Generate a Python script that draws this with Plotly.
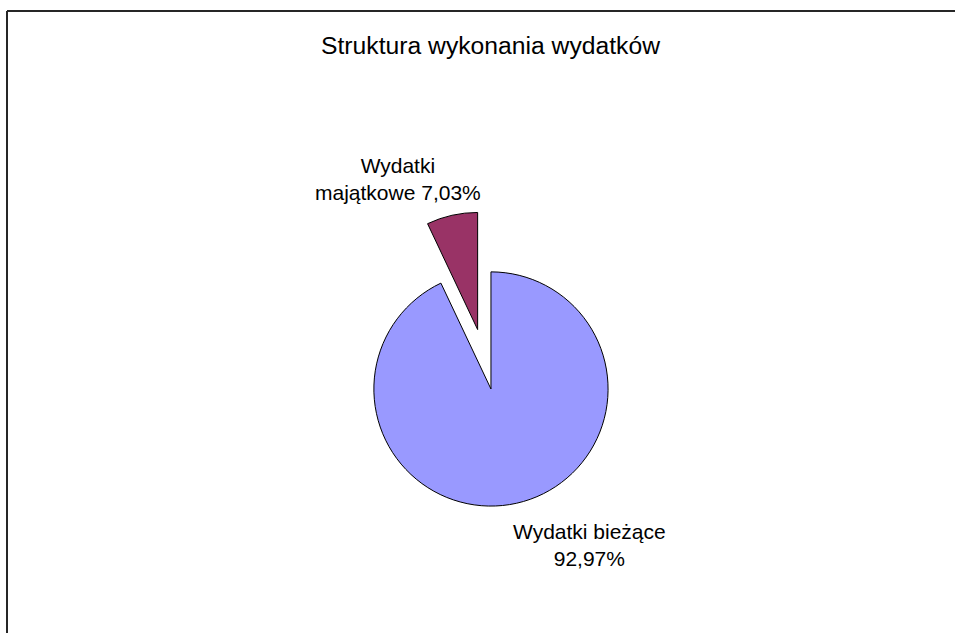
import plotly.graph_objects as go

# Data
categories = ['Wydatki bieżące', 'Wydatki majątkowe']
shares = [92.97, 7.03]
# how each label is wrapped in the picture
label_lines = ['Wydatki bieżące<br>', 'Wydatki<br>majątkowe ']
pulls = [0, 0.52]

BLUE = '#9999FF'
PLUM = '#993366'
FONT = 'Arial, Liberation Sans, sans-serif'
W, H = 955, 633


def pct(v):
    return f'{v:.2f}%'.replace('.', ',')


fig = go.Figure(go.Pie(
    labels=categories,
    values=shares,
    sort=False,
    direction='clockwise',
    rotation=0,
    pull=pulls,
    marker=dict(colors=[BLUE, PLUM], line=dict(color='black', width=1)),
    textinfo='none',
    hoverinfo='label+percent',
    showlegend=False,
    domain=dict(x=[0.3277, 0.7005], y=[0.1043, 0.6667]),
))

# label positions (pixels) for each slice
label_pos = [(589, 545), (398, 179)]
for i, (px_, py_) in enumerate(label_pos):
    fig.add_annotation(
        x=px_ / W, y=1 - py_ / H, xref='paper', yref='paper',
        text=label_lines[i] + pct(shares[i]),
        showarrow=False, align='center',
        xanchor='center', yanchor='middle',
        font=dict(size=21, color='black', family=FONT),
    )

# chart-area frame: only the top and left edges fall inside the window
frame = dict(color='#262626', width=2)
fig.add_shape(type='line', xref='paper', yref='paper',
              x0=7 / W, x1=1, y0=1 - 11 / H, y1=1 - 11 / H, line=frame)
fig.add_shape(type='line', xref='paper', yref='paper',
              x0=7 / W, x1=7 / W, y0=0, y1=1 - 11 / H, line=frame)

fig.update_layout(
    width=W, height=H,
    margin=dict(l=0, r=0, t=0, b=0),
    paper_bgcolor='white',
    plot_bgcolor='white',
    font=dict(family=FONT, color='black'),
    title=dict(text='Struktura wykonania wydatków',
               x=490.5 / W, xanchor='center',
               y=1 - 45 / H, yanchor='middle',
               font=dict(size=24.7, color='black', family=FONT)),
)

# drop the default body margin so the figure sits at the window's corner
fig.write_html('out.html',
               config={'displayModeBar': False},
               post_script="document.body.style.margin='0';document.body.style.overflow='hidden';")
